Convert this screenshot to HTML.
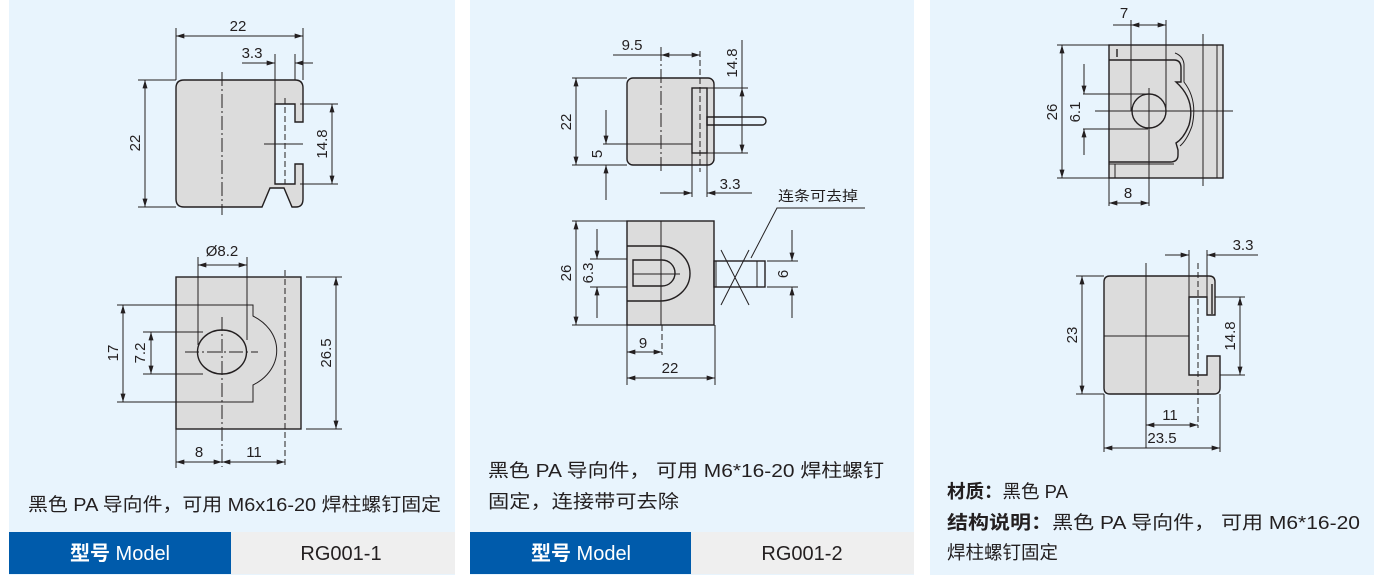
<!DOCTYPE html>
<html><head><meta charset="utf-8"><style>
html,body{margin:0;padding:0;background:#fff;}
svg{display:block;}
text{font-family:"Liberation Sans","Noto Sans CJK SC",sans-serif;fill:#231f20;}
.d{stroke:#231f20;stroke-width:1;fill:none;}
.t{stroke:#231f20;stroke-width:1.4;fill:none;}
.b{stroke:#231f20;stroke-width:1.4;fill:#dcdcdc;}
.cl{stroke:#231f20;stroke-width:1;fill:none;stroke-dasharray:14 3 2 3;}
.ds{stroke:#231f20;stroke-width:1;fill:none;stroke-dasharray:6 3;}
.n{font-size:15px;}
.c{font-size:18.5px;}
</style></head><body>
<svg width="1388" height="584" viewBox="0 0 1388 584" xmlns="http://www.w3.org/2000/svg">
<defs>
<marker id="a" viewBox="0 0 10 6" refX="10" refY="3" markerWidth="9" markerHeight="5" orient="auto-start-reverse" markerUnits="userSpaceOnUse"><path d="M0,0 L10,3 L0,6Z" fill="#231f20"/></marker>
</defs>
<rect x="9" y="0" width="446" height="575" fill="#e8f4fd"/>
<rect x="470" y="0" width="444" height="575" fill="#e8f4fd"/>
<rect x="930" y="0" width="444" height="575" fill="#e8f4fd"/>

<!-- PANEL 1 top -->
<path class="b" d="M184,80 L295,80 Q303,80 303,88 L303,122 L295,122 L295,104 L275,104 L275,184 L295,184 L295,164 L303,164 L303,199 Q303,207 296,207 L292,207 L284,188 L270,188 L262,207 L184,207 Q176,207 176,199 L176,88 Q176,80 184,80Z"/>
<line class="cl" x1="222" y1="72" x2="222" y2="215"/>
<line class="ds" x1="285" y1="98" x2="285" y2="184"/>
<line class="d" x1="264" y1="144" x2="303" y2="144"/>
<line class="d" x1="176" y1="28" x2="176" y2="80"/><line class="d" x1="303" y1="28" x2="303" y2="80"/>
<line class="d" x1="176" y1="36" x2="303" y2="36" marker-start="url(#a)" marker-end="url(#a)"/>
<text class="n" x="238" y="31" text-anchor="middle">22</text>
<line class="d" x1="275" y1="54" x2="275" y2="104"/><line class="d" x1="295" y1="54" x2="295" y2="80"/>
<line class="d" x1="242" y1="63" x2="275" y2="63" marker-end="url(#a)"/>
<line class="d" x1="313" y1="63" x2="295" y2="63" marker-end="url(#a)"/>
<text class="n" x="252" y="58" text-anchor="middle">3.3</text>
<line class="d" x1="138" y1="80" x2="176" y2="80"/><line class="d" x1="138" y1="207" x2="176" y2="207"/>
<line class="d" x1="145" y1="80" x2="145" y2="207" marker-start="url(#a)" marker-end="url(#a)"/>
<text class="n" transform="translate(140,143) rotate(-90)" text-anchor="middle">22</text>
<line class="d" x1="300" y1="104" x2="338" y2="104"/><line class="d" x1="300" y1="184" x2="338" y2="184"/>
<line class="d" x1="332" y1="104" x2="332" y2="184" marker-start="url(#a)" marker-end="url(#a)"/>
<text class="n" transform="translate(327,144) rotate(-90)" text-anchor="middle">14.8</text>

<!-- PANEL 1 bottom -->
<rect class="b" x="176" y="277" width="125" height="152"/>
<path class="d" d="M117,305 L253,305 L253,316 A48,40 0 0 1 253,385 L253,402 L117,402"/>
<ellipse class="t" cx="222" cy="352" rx="24.5" ry="22" fill="#dcdcdc"/>
<line class="cl" x1="222" y1="317" x2="222" y2="467"/>
<line class="ds" x1="285" y1="270" x2="285" y2="467"/>
<line class="cl" x1="185" y1="352" x2="258" y2="352"/>
<line class="d" x1="198" y1="257" x2="198" y2="345"/><line class="d" x1="247" y1="257" x2="247" y2="340"/>
<line class="d" x1="198" y1="265" x2="247" y2="265" marker-start="url(#a)" marker-end="url(#a)"/>
<text class="n" x="222" y="256" text-anchor="middle">Ø8.2</text>
<line class="d" x1="306" y1="277" x2="342" y2="277"/><line class="d" x1="306" y1="429" x2="342" y2="429"/>
<line class="d" x1="336" y1="277" x2="336" y2="429" marker-start="url(#a)" marker-end="url(#a)"/>
<text class="n" transform="translate(331,353) rotate(-90)" text-anchor="middle">26.5</text>
<line class="d" x1="123" y1="305" x2="123" y2="402" marker-start="url(#a)" marker-end="url(#a)"/>
<text class="n" transform="translate(118,353) rotate(-90)" text-anchor="middle">17</text>
<line class="d" x1="143" y1="332" x2="203" y2="332"/><line class="d" x1="143" y1="374" x2="203" y2="374"/>
<line class="d" x1="151" y1="332" x2="151" y2="374" marker-start="url(#a)" marker-end="url(#a)"/>
<text class="n" transform="translate(145,353) rotate(-90)" text-anchor="middle">7.2</text>
<line class="d" x1="176" y1="429" x2="176" y2="468"/>
<line class="d" x1="176" y1="462" x2="222" y2="462" marker-start="url(#a)" marker-end="url(#a)"/>
<line class="d" x1="222" y1="462" x2="285" y2="462" marker-start="url(#a)" marker-end="url(#a)"/>
<text class="n" x="199" y="457" text-anchor="middle">8</text>
<text class="n" x="254" y="457" text-anchor="middle">11</text>

<text class="c" x="28" y="511" textLength="413" lengthAdjust="spacingAndGlyphs">黑色 PA 导向件，可用 M6x16-20 焊柱螺钉固定</text>
<rect x="9" y="532" width="222" height="42" fill="#005bab"/>
<rect x="231" y="532" width="224" height="42" fill="#efefef"/>
<text x="120" y="560" text-anchor="middle" style="font-size:20px;fill:#fff;font-weight:bold">型号 <tspan font-weight="normal">Model</tspan></text>
<text x="341" y="560" text-anchor="middle" style="font-size:20px">RG001-1</text>

<!-- PANEL 2 top -->
<rect class="b" x="627" y="78" width="87" height="87" rx="6"/>
<rect class="t" x="692" y="88" width="15" height="65"/>
<path class="t" d="M707,117 L762,117 A4,4 0 0 1 762,125 L707,125Z" fill="#dcdcdc"/>
<line class="cl" x1="661" y1="47" x2="661" y2="173"/>
<line class="ds" x1="700" y1="51" x2="700" y2="172"/>
<line class="d" x1="613" y1="55" x2="661" y2="55"/>
<line class="d" x1="661" y1="55" x2="700" y2="55" marker-start="url(#a)" marker-end="url(#a)"/>
<text class="n" x="632" y="50" text-anchor="middle">9.5</text>
<line class="d" x1="707" y1="88" x2="748" y2="88"/><line class="d" x1="707" y1="153" x2="748" y2="153"/>
<line class="d" x1="742" y1="40" x2="742" y2="88"/>
<line class="d" x1="742" y1="88" x2="742" y2="153" marker-start="url(#a)" marker-end="url(#a)"/>
<text class="n" transform="translate(737,63) rotate(-90)" text-anchor="middle">14.8</text>
<line class="d" x1="572" y1="78" x2="627" y2="78"/><line class="d" x1="572" y1="165" x2="627" y2="165"/>
<line class="d" x1="576" y1="78" x2="576" y2="165" marker-start="url(#a)" marker-end="url(#a)"/>
<text class="n" transform="translate(571,122) rotate(-90)" text-anchor="middle">22</text>
<line class="d" x1="603" y1="144" x2="692" y2="144"/>
<line class="d" x1="606" y1="110" x2="606" y2="144" marker-end="url(#a)"/>
<line class="d" x1="606" y1="200" x2="606" y2="165" marker-end="url(#a)"/>
<text class="n" transform="translate(602,154) rotate(-90)" text-anchor="middle">5</text>
<line class="d" x1="692" y1="153" x2="692" y2="197"/><line class="d" x1="707" y1="153" x2="707" y2="197"/>
<line class="d" x1="660" y1="193" x2="692" y2="193" marker-end="url(#a)"/>
<line class="d" x1="752" y1="193" x2="707" y2="193" marker-end="url(#a)"/>
<text class="n" x="730" y="189" text-anchor="middle">3.3</text>
<text x="778" y="201" style="font-size:14px" textLength="80" lengthAdjust="spacingAndGlyphs">连条可去掉</text>
<path class="d" d="M865,208 L777,208 L751,258"/>

<!-- PANEL 2 bottom -->
<rect class="b" x="627" y="221" width="87" height="104"/>
<path class="t" d="M627,246 L660,246 A30,27.5 0 0 1 660,301 L627,301"/>
<path class="t" d="M633,260 L662,260 A13,13 0 0 1 662,286 L633,286Z"/>
<line class="d" x1="633" y1="274" x2="680" y2="274"/>
<line class="d" x1="661" y1="221" x2="661" y2="325"/>
<line class="ds" x1="662" y1="325" x2="662" y2="355"/>
<rect class="t" x="714" y="261" width="51" height="26" fill="#dcdcdc"/>
<line class="d" x1="757" y1="261" x2="757" y2="287"/>
<line class="d" x1="716" y1="261" x2="716" y2="287"/>
<line class="d" x1="721" y1="250" x2="749" y2="305"/><line class="d" x1="749" y1="250" x2="721" y2="305"/>
<line class="d" x1="572" y1="221" x2="627" y2="221"/><line class="d" x1="572" y1="325" x2="627" y2="325"/>
<line class="d" x1="576" y1="221" x2="576" y2="325" marker-start="url(#a)" marker-end="url(#a)"/>
<text class="n" transform="translate(571,273) rotate(-90)" text-anchor="middle">26</text>
<line class="d" x1="590" y1="259" x2="627" y2="259"/><line class="d" x1="590" y1="287" x2="627" y2="287"/>
<line class="d" x1="597" y1="229" x2="597" y2="259" marker-end="url(#a)"/>
<line class="d" x1="597" y1="318" x2="597" y2="287" marker-end="url(#a)"/>
<text class="n" transform="translate(593,273) rotate(-90)" text-anchor="middle">6.3</text>
<line class="d" x1="767" y1="261" x2="798" y2="261"/><line class="d" x1="767" y1="287" x2="798" y2="287"/>
<line class="d" x1="792" y1="230" x2="792" y2="261" marker-end="url(#a)"/>
<line class="d" x1="792" y1="318" x2="792" y2="287" marker-end="url(#a)"/>
<text class="n" transform="translate(788,274) rotate(-90)" text-anchor="middle">6</text>
<line class="d" x1="627" y1="325" x2="627" y2="385"/><line class="d" x1="715" y1="325" x2="715" y2="385"/>
<line class="d" x1="627" y1="352" x2="662" y2="352" marker-start="url(#a)" marker-end="url(#a)"/>
<text class="n" x="643" y="348" text-anchor="middle">9</text>
<line class="d" x1="627" y1="378" x2="715" y2="378" marker-start="url(#a)" marker-end="url(#a)"/>
<text class="n" x="670" y="373" text-anchor="middle">22</text>

<text class="c" x="488" y="477" textLength="396" lengthAdjust="spacingAndGlyphs">黑色 PA 导向件，  可用 M6*16-20 焊柱螺钉</text>
<text class="c" x="488" y="508" textLength="191" lengthAdjust="spacingAndGlyphs">固定，连接带可去除</text>
<rect x="470" y="532" width="221" height="42" fill="#005bab"/>
<rect x="691" y="532" width="223" height="42" fill="#efefef"/>
<text x="581" y="560" text-anchor="middle" style="font-size:20px;fill:#fff;font-weight:bold">型号 <tspan font-weight="normal">Model</tspan></text>
<text x="802" y="560" text-anchor="middle" style="font-size:20px">RG001-2</text>

<!-- PANEL 3 top -->
<rect class="b" x="1109" y="45" width="114" height="133"/>
<line class="d" x1="1217" y1="45" x2="1217" y2="178"/>
<line class="t" x1="1117" y1="49" x2="1117" y2="57"/>
<path class="t" d="M1109,60 L1174,60 Q1181,60 1181,68 L1181,82 L1176,82 Q1196,100 1189,125 Q1184,138 1176,143 L1178,150 L1178,155 Q1178,162 1170,162 L1109,162"/>
<path class="d" d="M1175,53 Q1183,56 1184,64 L1184,82 Q1198,100 1192,126 Q1187,140 1180,146"/>
<path class="d" d="M1109,164 L1174,164 M1115,164 L1115,178"/>
<circle class="t" cx="1149" cy="111" r="17" fill="#dcdcdc"/>
<line class="d" x1="1095" y1="111" x2="1233" y2="111"/>
<line class="d" x1="1149" y1="88" x2="1149" y2="206"/>
<line class="d" x1="1203" y1="34" x2="1203" y2="186"/>
<line class="d" x1="1131" y1="20" x2="1131" y2="111"/><line class="d" x1="1166" y1="20" x2="1166" y2="111"/>
<line class="d" x1="1113" y1="25" x2="1131" y2="25"/>
<line class="d" x1="1131" y1="25" x2="1166" y2="25" marker-start="url(#a)" marker-end="url(#a)"/>
<text class="n" x="1124" y="18" text-anchor="middle">7</text>
<line class="d" x1="1057" y1="45" x2="1109" y2="45"/><line class="d" x1="1057" y1="178" x2="1109" y2="178"/>
<line class="d" x1="1062" y1="45" x2="1062" y2="178" marker-start="url(#a)" marker-end="url(#a)"/>
<text class="n" transform="translate(1057,112) rotate(-90)" text-anchor="middle">26</text>
<line class="d" x1="1083" y1="94" x2="1148" y2="94"/><line class="d" x1="1083" y1="129" x2="1148" y2="129"/>
<line class="d" x1="1084" y1="64" x2="1084" y2="94" marker-end="url(#a)"/>
<line class="d" x1="1084" y1="155" x2="1084" y2="129" marker-end="url(#a)"/>
<text class="n" transform="translate(1080,112) rotate(-90)" text-anchor="middle">6.1</text>
<line class="d" x1="1109" y1="178" x2="1109" y2="206"/>
<line class="d" x1="1109" y1="203" x2="1149" y2="203" marker-start="url(#a)" marker-end="url(#a)"/>
<text class="n" x="1128" y="198" text-anchor="middle">8</text>

<!-- PANEL 3 bottom -->
<path class="b" d="M1110,276 L1209,276 Q1215,276 1215,282 L1215,315 L1207,315 L1207,297 L1189,297 L1189,375 L1207,375 L1207,356 L1220,356 L1220,388 Q1220,394 1214,394 L1110,394 Q1104,394 1104,388 L1104,282 Q1104,276 1110,276Z"/>
<line class="t" x1="1212" y1="284" x2="1212" y2="314"/>
<line class="d" x1="1104" y1="336" x2="1189" y2="336"/>
<line class="d" x1="1146" y1="263" x2="1146" y2="448"/>
<line class="ds" x1="1198" y1="263" x2="1198" y2="428"/>
<line class="d" x1="1189" y1="250" x2="1189" y2="297"/><line class="d" x1="1207" y1="250" x2="1207" y2="297"/>
<line class="d" x1="1165" y1="255" x2="1189" y2="255" marker-end="url(#a)"/>
<line class="d" x1="1258" y1="255" x2="1207" y2="255" marker-end="url(#a)"/>
<text class="n" x="1243" y="250" text-anchor="middle">3.3</text>
<line class="d" x1="1076" y1="276" x2="1104" y2="276"/><line class="d" x1="1076" y1="394" x2="1104" y2="394"/>
<line class="d" x1="1082" y1="276" x2="1082" y2="394" marker-start="url(#a)" marker-end="url(#a)"/>
<text class="n" transform="translate(1077,335) rotate(-90)" text-anchor="middle">23</text>
<line class="d" x1="1215" y1="297" x2="1245" y2="297"/><line class="d" x1="1220" y1="375" x2="1245" y2="375"/>
<line class="d" x1="1240" y1="297" x2="1240" y2="375" marker-start="url(#a)" marker-end="url(#a)"/>
<text class="n" transform="translate(1235,336) rotate(-90)" text-anchor="middle">14.8</text>
<line class="d" x1="1146" y1="425" x2="1198" y2="425" marker-start="url(#a)" marker-end="url(#a)"/>
<text class="n" x="1170" y="420" text-anchor="middle">11</text>
<line class="d" x1="1104" y1="394" x2="1104" y2="452"/><line class="d" x1="1220" y1="394" x2="1220" y2="452"/>
<line class="d" x1="1104" y1="448" x2="1220" y2="448" marker-start="url(#a)" marker-end="url(#a)"/>
<text class="n" x="1162" y="443" text-anchor="middle">23.5</text>

<text class="c" x="947" y="498"><tspan font-weight="bold">材质：</tspan>黑色 PA</text>
<text class="c" x="947" y="529" textLength="413" lengthAdjust="spacingAndGlyphs"><tspan font-weight="bold">结构说明：</tspan>黑色 PA 导向件，  可用 M6*16-20</text>
<text class="c" x="947" y="559">焊柱螺钉固定</text>
</svg>
</body></html>
